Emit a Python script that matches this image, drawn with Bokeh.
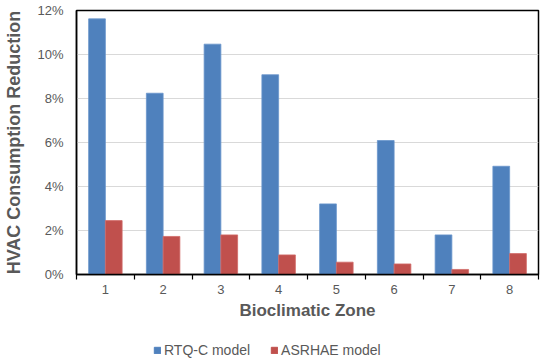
from bokeh.plotting import figure
from bokeh.layouts import column
from bokeh.models import Range1d, FixedTicker, PrintfTickFormatter, Legend, LegendItem, ColumnDataSource
from bokeh.embed import file_html
from bokeh.resources import INLINE

zones = [1, 2, 3, 4, 5, 6, 7, 8]
rtqc = [11.62, 8.24, 10.47, 9.08, 3.21, 6.09, 1.80, 4.92]
ashrae = [2.45, 1.73, 1.80, 0.89, 0.56, 0.48, 0.23, 0.95]
y_ticks = [0, 2, 4, 6, 8, 10, 12]
series_names = ["RTQ-C model", "ASRHAE model"]
colors = ["#4F81BD", "#C0504D"]
edge_colors = ["#6a95cc", "#d06a67"]

FONT = "Liberation Sans"
GRAY = "#595959"

p = figure(width=550, height=335, output_backend="svg", toolbar_location=None,
           x_range=Range1d(0.5, 8.5), y_range=Range1d(0, 12),
           min_border_left=76, min_border_right=12, min_border_top=10, min_border_bottom=61)

src = ColumnDataSource(dict(
    xb=[z - 0.145 for z in zones], xr=[z + 0.145 for z in zones], b=rtqc, r=ashrae))
p.vbar(x="xb", top="b", width=0.29, source=src, fill_color=colors[0], line_color=edge_colors[0], line_width=0.8)
p.vbar(x="xr", top="r", width=0.29, source=src, fill_color=colors[1], line_color=edge_colors[1], line_width=0.8)

p.outline_line_color = "black"
p.outline_line_width = 1.5

p.xaxis.ticker = FixedTicker(ticks=zones, minor_ticks=[z + 0.5 for z in [0] + zones])
p.xaxis.major_tick_line_color = None
p.xaxis.major_tick_out = 0
p.xaxis.major_tick_in = 0
p.xaxis.minor_tick_out = 5
p.xaxis.minor_tick_in = 0
p.xaxis.minor_tick_line_color = "black"
p.xaxis.minor_tick_line_width = 1.2
p.xaxis.axis_line_color = "black"
p.xaxis.axis_line_width = 1.5
p.xaxis.major_label_text_font = FONT
p.xaxis.major_label_text_font_size = "13px"
p.xaxis.major_label_text_color = GRAY
p.xaxis.major_label_standoff = 5
p.xaxis.axis_label = "Bioclimatic Zone"
p.xaxis.axis_label_text_font = FONT
p.xaxis.axis_label_text_font_size = "17px"
p.xaxis.axis_label_text_font_style = "bold"
p.xaxis.axis_label_text_color = GRAY
p.xaxis.axis_label_standoff = 4

p.yaxis.ticker = FixedTicker(ticks=y_ticks)
p.yaxis.formatter = PrintfTickFormatter(format="%d%%")
p.yaxis.major_tick_line_color = None
p.yaxis.major_tick_out = 0
p.yaxis.major_tick_in = 0
p.yaxis.minor_tick_line_color = None
p.yaxis.axis_line_color = "black"
p.yaxis.axis_line_width = 1.5
p.yaxis.major_label_text_font = FONT
p.yaxis.major_label_text_font_size = "13px"
p.yaxis.major_label_text_color = GRAY
p.yaxis.major_label_standoff = 13
p.yaxis.axis_label = "HVAC Consumption Reduction"
p.yaxis.axis_label_text_font = FONT
p.yaxis.axis_label_text_font_size = "18px"
p.yaxis.axis_label_text_font_style = "bold"
p.yaxis.axis_label_text_color = GRAY
p.yaxis.axis_label_standoff = 10

p.xgrid.grid_line_color = None
p.ygrid.grid_line_color = "#D9D9D9"
p.ygrid.grid_line_width = 1.2

# legend strip below the chart (its frame aligns with the main frame);
# its ranges keep the proxy bars out of view, only the legend is shown
lg = figure(width=550, height=24, output_backend="svg", toolbar_location=None,
            x_range=Range1d(20, 28), y_range=Range1d(50, 51),
            x_axis_location=None, y_axis_location=None,
            min_border_left=76, min_border_right=12, min_border_top=0, min_border_bottom=0)
lg.outline_line_color = None
lg.grid.grid_line_color = None
items = []
for name, col, c in zip(series_names, ["b", "r"], colors):
    r = lg.vbar(x="xb", top=col, width=0.29, source=src, fill_color=c, line_color=c)
    items.append(LegendItem(label=name, renderers=[r]))
legend = Legend(items=items, orientation="horizontal", location=(77, 1),
                border_line_color=None, background_fill_alpha=0,
                label_text_font=FONT, label_text_font_size="14px", label_text_color=GRAY,
                label_height=16, glyph_width=8, glyph_height=8, label_standoff=3, spacing=20,
                margin=0, padding=2)
lg.add_layout(legend)

layout = column(p, lg, spacing=0)
open("out.html", "w").write(file_html(layout, INLINE))
